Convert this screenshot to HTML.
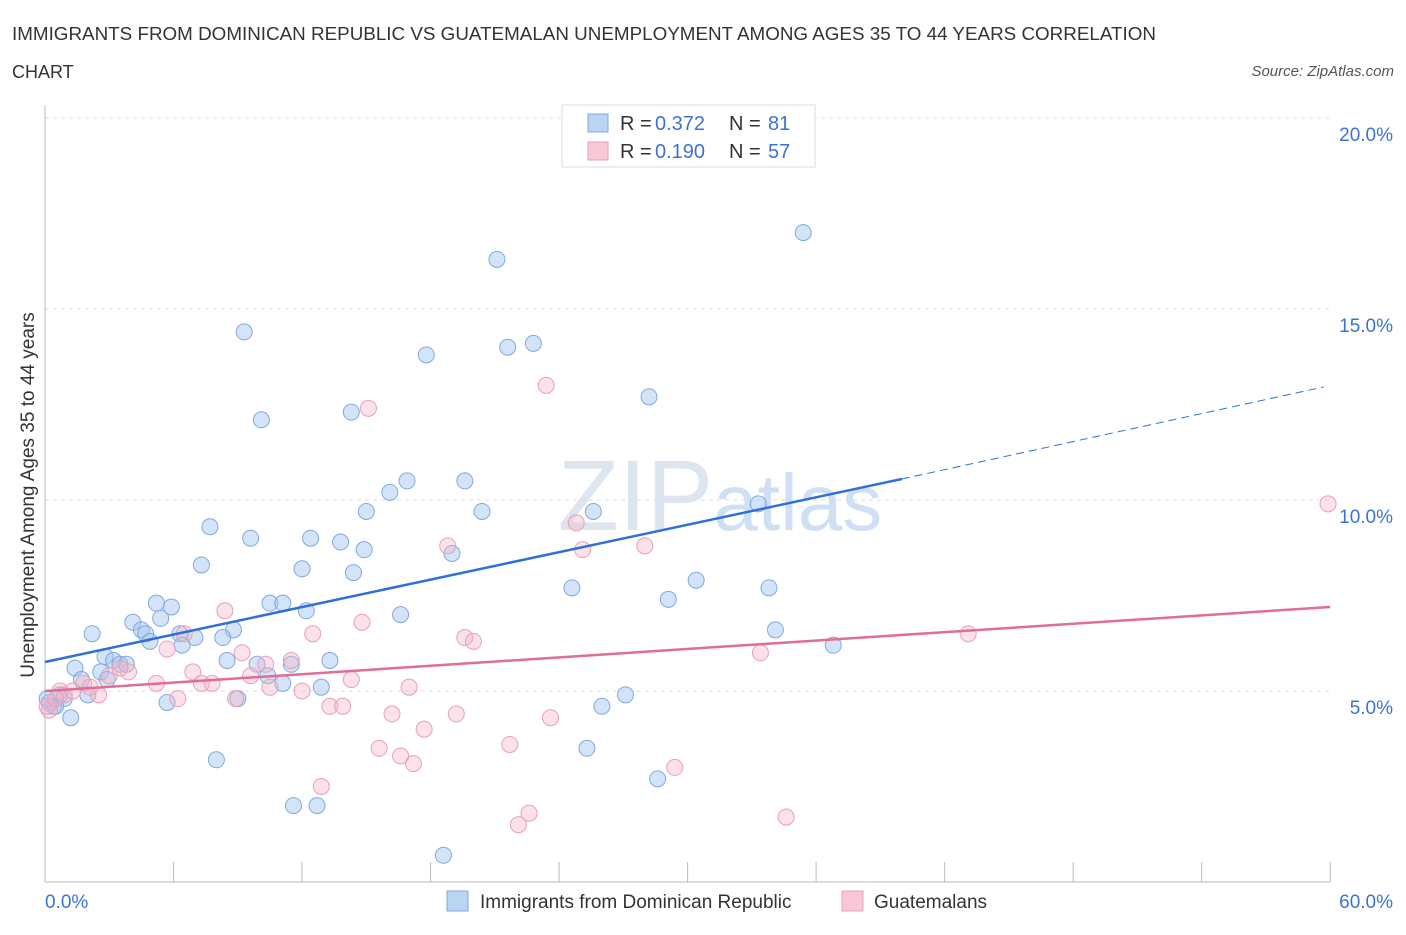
<!DOCTYPE html>
<html><head><meta charset="utf-8"><style>
body{margin:0;background:#fff;font-family:"Liberation Sans",sans-serif;}
svg text{font-family:"Liberation Sans",sans-serif;}
</style></head><body>
<svg id="chart" width="1406" height="930">
<text x="12" y="40" font-size="18" fill="#333" textLength="1144" lengthAdjust="spacingAndGlyphs">IMMIGRANTS FROM DOMINICAN REPUBLIC VS GUATEMALAN UNEMPLOYMENT AMONG AGES 35 TO 44 YEARS CORRELATION</text>
<text x="12" y="78" font-size="18" fill="#333">CHART</text>
<text x="1394" y="76" font-size="15" fill="#555" font-style="italic" text-anchor="end">Source: ZipAtlas.com</text>
<text x="720" y="530" font-size="100" fill="#dde6f0" text-anchor="middle" font-family="Liberation Serif">ZIP<tspan fill="#cfe0f4" font-family="Liberation Sans" font-size="80">atlas</tspan></text>
<g id="grid"></g>
<g id="marks"></g>
<text transform="translate(34,495) rotate(-90)" font-size="19" fill="#333" text-anchor="middle">Unemployment Among Ages 35 to 44 years</text>
<text x="45" y="908" font-size="19" fill="#3b73d4">0.0%</text>
<text x="1393" y="908" font-size="19" fill="#3b73d4" text-anchor="end">60.0%</text>
<g>
<rect x="562" y="105" width="253" height="62" fill="#fff" stroke="#ddd"/>
<rect x="588" y="114" width="20" height="18" fill="#bcd4f4" stroke="#7fa9e0"/>
<rect x="588" y="142" width="20" height="18" fill="#f8c8d6" stroke="#e8a0b8"/>
<text x="620" y="130" font-size="20" fill="#333">R =</text>
<text x="655" y="130" font-size="20" fill="#3b73d4">0.372</text>
<text x="729" y="130" font-size="20" fill="#333">N =</text>
<text x="768" y="130" font-size="20" fill="#3b73d4">81</text>
<text x="620" y="158" font-size="20" fill="#333">R =</text>
<text x="655" y="158" font-size="20" fill="#3b73d4">0.190</text>
<text x="729" y="158" font-size="20" fill="#333">N =</text>
<text x="768" y="158" font-size="20" fill="#3b73d4">57</text>
</g>
<g>
<rect x="447" y="891" width="21" height="20" fill="#bcd4f4" stroke="#7fa9e0"/>
<text x="480" y="908" font-size="19" fill="#333">Immigrants from Dominican Republic</text>
<rect x="842" y="891" width="21" height="20" fill="#f8c8d6" stroke="#e8a0b8"/>
<text x="874" y="908" font-size="19" fill="#333">Guatemalans</text>
</g>
</svg>
<script>
const yTicks=[5,10,15,20];
const yTickLabels=["5.0%","10.0%","15.0%","20.0%"];
const blueX=[35.4,21.1,9.3,22.8,21.6,17.8,28.2,10.1,14.3,16.9,19.6,16.1,33.3,20.4,15.0,25.6,7.7,9.6,12.4,13.8,14.9,19.0,7.3,12.0,14.4,30.4,24.6,33.8,29.1,5.2,5.9,10.5,11.1,12.2,16.6,5.4,4.1,4.5,2.2,4.7,6.3,7.0,8.8,8.3,4.9,6.4,34.1,36.8,8.5,1.4,2.8,3.2,3.5,3.8,2.6,9.9,11.5,13.3,10.4,11.1,12.9,1.7,0.7,2.0,0.9,9.0,5.7,27.1,26.0,0.4,1.2,25.3,8.0,28.6,11.6,12.7,18.6,0.5,0.2,2.9,0.1];
const blueY=[17.0,16.3,14.4,14.1,14.0,13.8,12.7,12.1,12.3,10.5,10.5,10.2,9.9,9.7,9.7,9.7,9.3,9.0,9.0,8.9,8.7,8.6,8.3,8.2,8.1,7.9,7.7,7.7,7.4,7.3,7.2,7.3,7.3,7.1,7.0,6.9,6.8,6.6,6.5,6.5,6.5,6.4,6.6,6.4,6.3,6.2,6.6,6.2,5.8,5.6,5.9,5.8,5.7,5.7,5.5,5.7,5.7,5.8,5.4,5.2,5.1,5.3,4.9,4.9,4.8,4.8,4.7,4.9,4.6,4.6,4.3,3.5,3.2,2.7,2.0,2.0,0.7,4.6,4.7,5.3,4.8];
const pinkX=[23.4,15.1,59.9,24.8,18.8,28.0,25.1,8.4,14.8,6.5,12.5,19.6,20.0,5.7,43.1,33.4,9.2,10.3,11.5,3.9,3.0,6.9,7.8,5.2,7.3,9.6,14.3,10.5,12.0,17.0,1.8,2.5,6.2,8.9,13.3,13.9,16.2,19.2,23.6,17.7,15.6,16.6,17.2,21.7,29.4,12.9,22.6,22.1,34.6,0.7,0.9,0.2,0.1,0.5,1.3,2.1,3.5];
const pinkY=[13.0,12.4,9.9,9.4,8.8,8.8,8.7,7.1,6.8,6.5,6.5,6.4,6.3,6.1,6.5,6.0,6.0,5.7,5.8,5.5,5.4,5.5,5.2,5.2,5.2,5.4,5.3,5.1,5.0,5.1,5.2,4.9,4.8,4.8,4.6,4.6,4.4,4.4,4.3,4.0,3.5,3.3,3.1,3.6,3.0,2.5,1.8,1.5,1.7,5.0,4.9,4.5,4.6,4.8,5.0,5.1,5.6];
const blueTrend=[[0,5.76],[40.0,10.55],[59.7,12.96]];
const pinkTrend=[[0,5.0],[60,7.2]];
const NS="http://www.w3.org/2000/svg";
const sx=v=>45+v*21.42, sy=v=>882-v*38.2;
const grid=document.getElementById('grid'), marks=document.getElementById('marks');
function mk(tag,attrs,parent){const e=document.createElementNS(NS,tag);for(const k in attrs)e.setAttribute(k,attrs[k]);parent.appendChild(e);return e;}
yTicks.forEach((t,i)=>{
 const l=mk('line',{x1:45,x2:1330,y1:sy(t),y2:sy(t),stroke:'#ddd','stroke-dasharray':'4,4'},grid);
 
 
 const tx=mk('text',{x:1393,y:sy(t)+23,'font-size':19,fill:'#3b73d4','text-anchor':'end'},grid);
 tx.textContent=yTickLabels[i];
 
 
});
const ax=mk('line',{x1:45,x2:45,y1:105,y2:882,stroke:'#bbb'},grid);


const bx=mk('line',{x1:45,x2:1330,y1:882,y2:882,stroke:'#bbb'},grid);


for(let i=0;i<=10;i++){const x=sx(i*6);
 const t=mk('line',{x1:x,x2:x,y1:862,y2:882,stroke:'#bbb'},grid);
 
 }
function dots(X,Y,fill,stroke,name){X.forEach((x,i)=>{
 const c=mk('circle',{cx:sx(x),cy:sy(Y[i]),r:8,fill:fill,stroke:stroke,'stroke-width':1},marks);
 
 });}
dots(blueX,blueY,'rgba(160,196,240,0.45)','#7fa9e0','point-dominican');
dots(pinkX,pinkY,'rgba(244,180,200,0.4)','#e8a0b8','point-guatemalan');
const b1=mk('line',{x1:sx(blueTrend[0][0]),y1:sy(blueTrend[0][1]),x2:sx(blueTrend[1][0]),y2:sy(blueTrend[1][1]),stroke:'#2e6fd8','stroke-width':2.5},marks);


const b2=mk('line',{x1:sx(blueTrend[1][0]),y1:sy(blueTrend[1][1]),x2:sx(blueTrend[2][0]),y2:sy(blueTrend[2][1]),stroke:'#2e6fd8','stroke-width':1,'stroke-dasharray':'8,5'},marks);


const p1=mk('line',{x1:sx(pinkTrend[0][0]),y1:sy(pinkTrend[0][1]),x2:sx(pinkTrend[1][0]),y2:sy(pinkTrend[1][1]),stroke:'#e06c98','stroke-width':2.5},marks);


</script>
</body></html>
